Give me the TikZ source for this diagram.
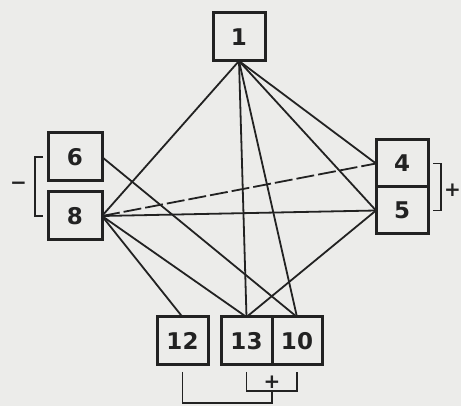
\documentclass[tikz,border=0pt]{standalone}
\usepackage{fontspec}
\setmainfont{DejaVu Sans}
\usepackage{tikz}
\usetikzlibrary{positioning, calc}
\definecolor{paper}{RGB}{236,236,234}
\definecolor{ink}{RGB}{34,34,34}

\begin{document}
\begin{tikzpicture}[
    x=1pt, y=-1pt,
    cell/.style={draw=ink, line width=3pt, minimum width=52pt, minimum height=48pt,
        inner sep=0pt, outer sep=0pt, font=\fontsize{23}{23}\selectfont\bfseries, text=ink},
    link/.style={draw=ink, line width=1.8pt},
    brace/.style={draw=ink, line width=1.7pt},
    sign/.style={font=\fontsize{20}{20}\selectfont\bfseries, text=ink, inner sep=0pt}
]
    % Background and bounding box
    \fill[paper] (0,0) rectangle (461,406);
    \useasboundingbox (0,0) rectangle (461,406);

    % Boxes
    \node[cell] (n1) at (239,37) {1};
    \node[cell, minimum width=54pt] (n6) at (75,157) {6};
    \node[cell, minimum width=54pt, below=11pt of n6] (n8) {8};
    \node[cell, minimum height=47pt] (n4) at (402,163.5) {4};
    \node[cell, minimum height=47pt, below=0pt of n4] (n5) {5};
    \node[cell, minimum width=51pt] (n12) at (182.5,341) {12};
    \node[cell, minimum width=51pt] (n13) at (246.5,341) {13};
    \node[cell, minimum width=50pt, right=0pt of n13] (n10) {10};

    % Connectors from 1
    \draw[link] (n1.south) -- (n8.east);
    \draw[link] (n1.south) -- (n13.north);
    \draw[link] (n1.south) -- (n10.north);
    \draw[link] (n1.south) -- (n4.west);
    \draw[link] (n1.south) -- (n5.west);

    % Connectors from 8
    \draw[link, dash pattern=on 18pt off 4pt] (n8.east) -- (n4.west);
    \draw[link] (n8.east) -- (n5.west);
    \draw[link] (n8.east) -- (n12.north);
    \draw[link] (n8.east) -- (n13.north);

    % Other connectors
    \draw[link] (n6.east) -- (n10.north);
    \draw[link] (n5.west) -- (n13.north);

    % Brackets and signs
    \draw[brace] ($(n6.west)+(-5,0)$) -- ++(-8,0) |- ($(n8.west)+(-5,0)$);
    \node[sign] (minus) at (18.5,186) {\textminus};
    \draw[brace] ($(n4.east)+(5,0)$) -- ++(8,0) |- ($(n5.east)+(5,0)$);
    \node[sign] (plusr) at (452.5,190) {+};
    \draw[brace] ($(n13.south)+(0,7)$) -- ++(0,19) -| ($(n10.south)+(0,7)$);
    \node[sign] (plusb) at (272,382) {+};
    \draw[brace] ($(n12.south)+(0,7)$) -- ++(0,31) -| (plusb |- 0,391);
\end{tikzpicture}
\end{document}
